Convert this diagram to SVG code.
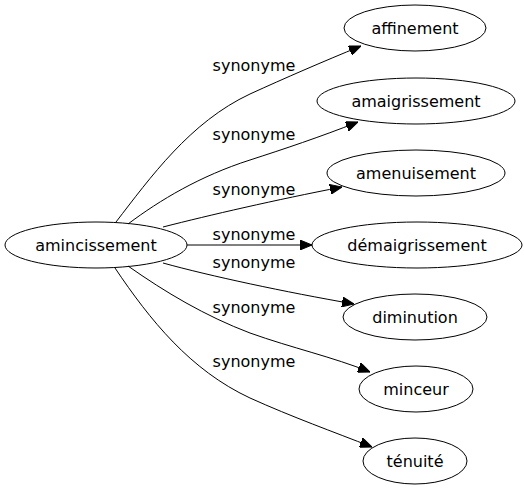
<svg xmlns="http://www.w3.org/2000/svg" width="524" height="491" viewBox="0 0 524 491">
<defs>
<style>
text{font-family:"DejaVu Sans",Verdana,sans-serif;font-size:16px;fill:#000;text-anchor:middle}
ellipse{fill:none;stroke:#000;stroke-width:1}
.e path{fill:none;stroke:#000;stroke-width:1;marker-end:url(#ah)}
</style>
<marker id="ah" viewBox="0 0 12 10" refX="12" refY="5" markerWidth="12" markerHeight="10" markerUnits="userSpaceOnUse" orient="auto">
<path d="M0,0 L12,5 L0,10 Z" fill="#000" stroke="#000"/>
</marker>
</defs>
<rect width="524" height="491" fill="#fff"/>
<g id="edges" class="e">
<path d="M116,222 C150,178 190,122 250,94 C285,78 322,62 361,46"/>
<path d="M128,224 C160,200 200,176 250,160 C284,149 320,137 358,122"/>
<path d="M163,227 C210,215 275,200 342,187"/>
<path d="M187,245 L312,245"/>
<path d="M163,263 C210,276 285,292 354,304"/>
<path d="M128,266 C165,292 205,316 250,333 C292,348 333,357 370,372"/>
<path d="M115,268 C150,320 190,370 250,398 C292,417 334,432 372,447"/>
</g>
<g id="edge-labels">
<text x="254" y="71">synonyme</text>
<text x="254" y="140">synonyme</text>
<text x="254" y="195">synonyme</text>
<text x="254" y="240">synonyme</text>
<text x="254" y="268">synonyme</text>
<text x="254" y="313">synonyme</text>
<text x="254" y="367">synonyme</text>
</g>
<g id="amincissement"><ellipse cx="96" cy="245" rx="91" ry="23"/><text x="96" y="251">amincissement</text></g>
<g id="affinement"><ellipse cx="415" cy="28" rx="71" ry="23"/><text x="415" y="34">affinement</text></g>
<g id="amaigrissement"><ellipse cx="416" cy="101" rx="99" ry="23"/><text x="416" y="107">amaigrissement</text></g>
<g id="amenuisement"><ellipse cx="416" cy="173" rx="89" ry="23"/><text x="416" y="179">amenuisement</text></g>
<g id="demaigrissement"><ellipse cx="417" cy="245" rx="105" ry="23"/><text x="417" y="251">démaigrissement</text></g>
<g id="diminution"><ellipse cx="415" cy="317" rx="72" ry="23"/><text x="415" y="323">diminution</text></g>
<g id="minceur"><ellipse cx="416" cy="389" rx="57" ry="23"/><text x="416" y="395">minceur</text></g>
<g id="tenuite"><ellipse cx="415" cy="461" rx="52" ry="23"/><text x="415" y="467">ténuité</text></g>
</svg>
